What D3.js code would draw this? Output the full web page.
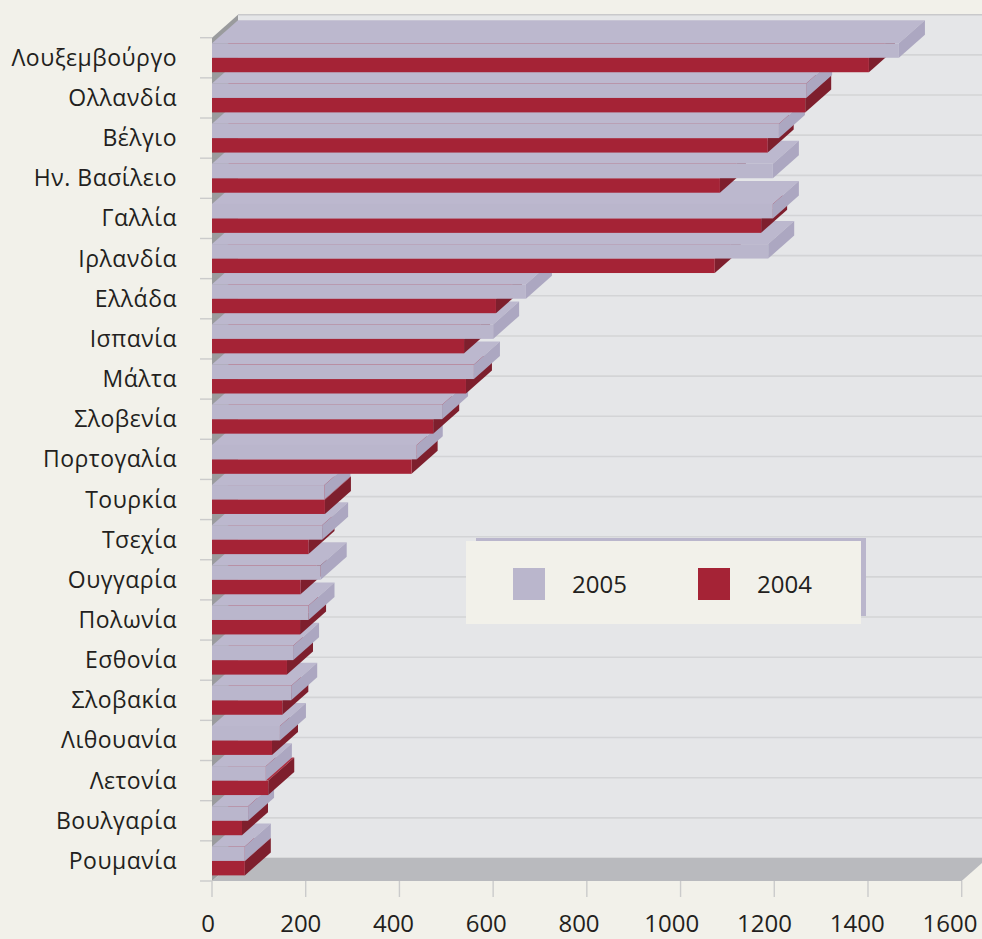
<!DOCTYPE html>
<html>
<head>
<meta charset="utf-8">
<script src="https://cdn.jsdelivr.net/npm/d3@7"></script>
<style>
  body { margin: 0; background: #f2f1ea; }
  text { font-family: "Open Sans", "Noto Sans", sans-serif; fill: #231f20; }
</style>
</head>
<body>
<div id="vis"></div>
<script>
const FRAME_WIDTH = 982;
const FRAME_HEIGHT = 939;

// data, top to bottom
const COUNTRIES = ["Λουξεμβούργο", "Ολλανδία", "Βέλγιο", "Ην. Βασίλειο", "Γαλλία", "Ιρλανδία",
  "Ελλάδα", "Ισπανία", "Μάλτα", "Σλοβενία", "Πορτογαλία", "Τουρκία", "Τσεχία", "Ουγγαρία",
  "Πολωνία", "Εσθονία", "Σλοβακία", "Λιθουανία", "Λετονία", "Βουλγαρία", "Ρουμανία"];
const VALUES_2005 = [1466, 1268, 1210, 1197, 1197, 1187, 670, 600, 559, 491, 437, 240, 235, 232,
  206, 173, 169, 145, 115, 77, 70];
const VALUES_2004 = [1402, 1266, 1186, 1084, 1172, 1073, 606, 538, 542, 472, 426, 241, 206, 189,
  188, 160, 150, 128, 120, 64, 70];
const SERIES = ["2005", "2004"];
const X_TICKS = [0, 200, 400, 600, 800, 1000, 1200, 1400, 1600];

const COLORS = {
  "2005": {front: "#bab6cc", top: "#bcb8ce", side: "#aca7c1"},
  "2004": {front: "#a52336", top: "#b02c3e", side: "#7e1f2d"}
};

// 3d depth offset
const DX = 26;
const DY = 23;

const PLOT = {left: 212, right: 961.7, top: 37.7, bottom: 881};

const X_SCALE = d3.scaleLinear()
  .domain([0, 1600])
  .range([PLOT.left, PLOT.right]);

// tick labels sit a little left of their ticks
const LABEL_SCALE = d3.scaleLinear()
  .domain([0, 1600])
  .range([208, 950]);

const Y_SCALE = d3.scaleBand()
  .domain(COUNTRIES)
  .range([PLOT.top, PLOT.bottom])
  .paddingInner(0.28)
  .paddingOuter(0.14);

const SERIES_SCALE = d3.scaleBand()
  .domain(SERIES)
  .range([0, Y_SCALE.bandwidth()]);

const SVG = d3.select("#vis")
  .append("svg")
    .attr("width", FRAME_WIDTH)
    .attr("height", FRAME_HEIGHT);

SVG.append("rect")
  .attr("width", FRAME_WIDTH)
  .attr("height", FRAME_HEIGHT)
  .attr("fill", "#f2f1ea");

// back wall
SVG.append("rect")
  .attr("x", PLOT.left + DX)
  .attr("y", PLOT.top - DY)
  .attr("width", PLOT.right - PLOT.left + 10)
  .attr("height", PLOT.bottom - PLOT.top)
  .attr("fill", "#e5e6e8");

const STEP = Y_SCALE.step();
const BOUNDS = d3.range(COUNTRIES.length + 1).map(i => PLOT.top + i * STEP);

// gridlines on back wall
SVG.append("g")
  .selectAll("line")
  .data(BOUNDS)
  .enter()
  .append("line")
    .attr("x1", PLOT.left + DX)
    .attr("x2", FRAME_WIDTH)
    .attr("y1", d => d - DY)
    .attr("y2", d => d - DY)
    .attr("stroke", d => d == PLOT.top ? "#c9c9cb" : "#d3d4d6")
    .attr("stroke-width", 1.6);

// left wall
SVG.append("polygon")
  .attr("points", [[PLOT.left, PLOT.top], [PLOT.left + DX, PLOT.top - DY],
    [PLOT.left + DX, PLOT.bottom - DY], [PLOT.left, PLOT.bottom]].join(" "))
  .attr("fill", "#9a9b9d");

// floor
SVG.append("polygon")
  .attr("points", [[PLOT.left, PLOT.bottom], [PLOT.right, PLOT.bottom],
    [PLOT.right + DX, PLOT.bottom - DY], [PLOT.left + DX, PLOT.bottom - DY]].join(" "))
  .attr("fill", "#b9babe");

// y ticks
SVG.append("g")
  .selectAll("line")
  .data(BOUNDS)
  .enter()
  .append("line")
    .attr("x1", PLOT.left - 12)
    .attr("x2", PLOT.left)
    .attr("y1", d => d)
    .attr("y2", d => d)
    .attr("stroke", "#cbcbcb")
    .attr("stroke-width", 1.4);

// x ticks
SVG.append("g")
  .selectAll("line")
  .data(X_TICKS)
  .enter()
  .append("line")
    .attr("x1", d => X_SCALE(d))
    .attr("x2", d => X_SCALE(d))
    .attr("y1", PLOT.bottom)
    .attr("y2", PLOT.bottom + 16)
    .attr("stroke", "#cbcbcb")
    .attr("stroke-width", 1.4);

SVG.append("g")
  .selectAll("text")
  .data(X_TICKS)
  .enter()
  .append("text")
    .attr("x", d => LABEL_SCALE(d))
    .attr("y", 932)
    .attr("text-anchor", "middle")
    .attr("font-size", "24px")
    .text(d => d);

// category labels
SVG.append("g")
  .selectAll("text")
  .data(COUNTRIES)
  .enter()
  .append("text")
    .attr("x", 177)
    .attr("y", d => Y_SCALE(d) + Y_SCALE.bandwidth() / 2 + 8)
    .attr("text-anchor", "end")
    .attr("font-size", "23px")
    .attr("letter-spacing", "0.5px")
    .text(d => d);

// one 3d bar: front, top, side
function drawBox(g, x0, x1, y, h, c) {
  g.append("polygon")
    .attr("points", [[x0, y], [x1, y], [x1 + DX, y - DY], [x0 + DX, y - DY]].join(" "))
    .attr("fill", c.top);
  g.append("polygon")
    .attr("points", [[x1, y], [x1 + DX, y - DY], [x1 + DX, y + h - DY], [x1, y + h]].join(" "))
    .attr("fill", c.side);
  g.append("rect")
    .attr("x", x0)
    .attr("y", y)
    .attr("width", x1 - x0)
    .attr("height", h)
    .attr("fill", c.front);
}

// draw bottom rows first so upper rows cover them
const BARS = SVG.append("g");
for (let i = COUNTRIES.length - 1; i >= 0; i--) {
  let country = COUNTRIES[i];
  let rows = [["2004", VALUES_2004[i]], ["2005", VALUES_2005[i]]];
  rows.forEach(([s, v]) => {
    drawBox(BARS, X_SCALE(0), X_SCALE(v), Y_SCALE(country) + SERIES_SCALE(s),
      SERIES_SCALE.bandwidth(), COLORS[s]);
  });
}

// legend
const LEGEND = SVG.append("g");
LEGEND.append("rect")
  .attr("x", 476)
  .attr("y", 538)
  .attr("width", 390)
  .attr("height", 78)
  .attr("fill", "#bab6cc");
LEGEND.append("rect")
  .attr("x", 466)
  .attr("y", 541)
  .attr("width", 395)
  .attr("height", 83)
  .attr("fill", "#f2f1ea");

const LEGEND_X = {"2005": 513, "2004": 698};
SERIES.forEach(s => {
  LEGEND.append("rect")
    .attr("x", LEGEND_X[s])
    .attr("y", 568)
    .attr("width", 32)
    .attr("height", 32)
    .attr("fill", COLORS[s].front);
  LEGEND.append("text")
    .attr("x", LEGEND_X[s] + 59)
    .attr("y", 593)
    .attr("font-size", "24px")
    .text(s);
});
</script>
</body>
</html>
